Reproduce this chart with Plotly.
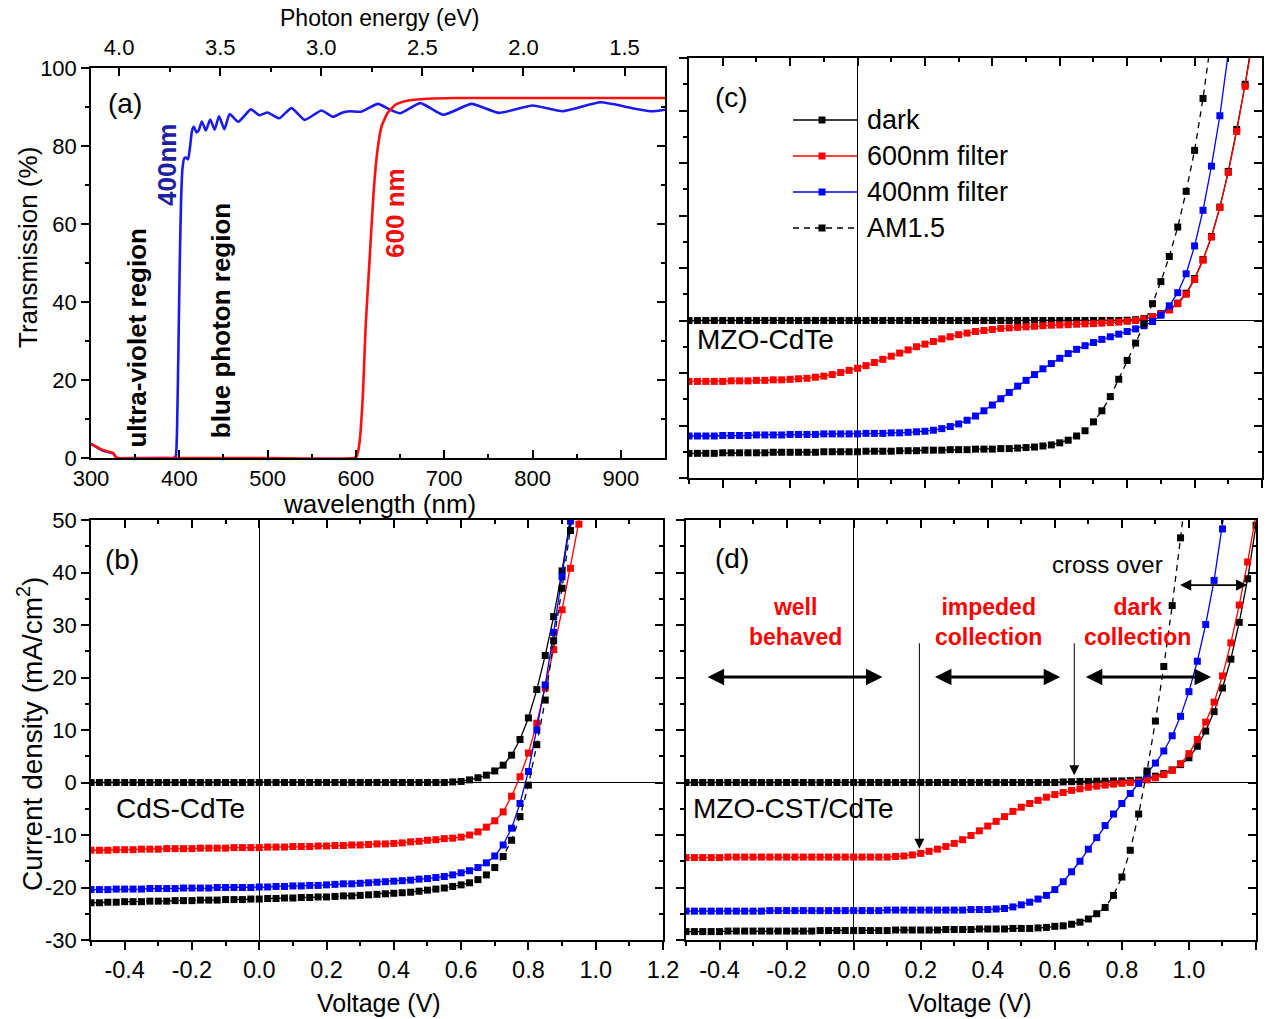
import plotly.graph_objects as go

# ---------------- (a) transmission of the two long-pass filters ----------------
WL_400 = [300, 305, 310, 315, 320, 325, 328, 330, 350, 380, 394, 396, 397.5, 399, 400.5, 402,
          403.5, 405.5, 408, 410, 412, 414.5, 416.5, 419.5, 422, 425.5, 430, 435, 440, 445,
          451, 457, 466.7, 481, 490.6, 500, 513, 527, 542, 561, 574, 585, 593, 606, 625,
          637, 650, 673, 699, 731, 762, 800, 834, 877, 915, 935, 950]
T_400 = [3.6, 3.0, 2.3, 1.8, 1.5, 1.2, 0.3, 0.0, 0.0, 0.0, 0.0, 0.5, 8.0, 28.0, 50.0, 66.0,
         74.0, 76.8, 77.0, 76.6, 79.5, 84.0, 84.9, 83.5, 84.0, 86.3, 84.0, 86.8, 84.2, 87.6,
         84.3, 88.2, 86.2, 89.4, 87.9, 88.6, 87.1, 89.7, 86.7, 89.1, 87.5, 88.6, 88.9, 88.8, 90.8,
         89.5, 88.4, 91.0, 88.0, 90.8, 88.5, 90.4, 88.9, 91.2, 89.6, 88.9, 89.3]

WL_600 = [300, 305, 310, 315, 320, 325, 328, 330, 400, 500, 598, 601, 604, 608, 611, 615.5,
          620, 624, 629, 636, 645, 658, 681, 712, 800, 950]
T_600 = [3.6, 3.0, 2.4, 1.9, 1.6, 1.3, 0.3, 0.0, 0.0, 0.0, 0.0, 0.5, 3.8, 16.7, 33.8, 51.0,
         68.0, 78.2, 85.0, 88.5, 90.6, 91.6, 92.1, 92.3, 92.3, 92.3]

WL_TICKS = [300, 400, 500, 600, 700, 800, 900]
T_TICKS = [0, 20, 40, 60, 80, 100]
E_TICKS = [4.0, 3.5, 3.0, 2.5, 2.0, 1.5]
E_LABELS = ["4.0", "3.5", "3.0", "2.5", "2.0", "1.5"]

# ---------------- J-V sweeps (voltage grid, V) ----------------
VOLT = [-0.5, -0.475, -0.45, -0.425, -0.4, -0.375, -0.35, -0.325, -0.3, -0.275, -0.25, -0.225,
        -0.2, -0.175, -0.15, -0.125, -0.1, -0.075, -0.05, -0.025, 0.0, 0.025, 0.05, 0.075,
        0.1, 0.125, 0.15, 0.175, 0.2, 0.225, 0.25, 0.275, 0.3, 0.325, 0.35, 0.375, 0.4,
        0.425, 0.45, 0.475, 0.5, 0.525, 0.55, 0.575, 0.6, 0.625, 0.65, 0.675, 0.7, 0.725,
        0.75, 0.775, 0.8, 0.825, 0.85, 0.875, 0.9, 0.925, 0.95, 0.975, 1.0, 1.025, 1.05,
        1.075, 1.1, 1.125, 1.15, 1.175, 1.2]
V_TICKS = [-0.4, -0.2, 0.0, 0.2, 0.4, 0.6, 0.8, 1.0, 1.2]
V_LABELS = ["-0.4", "-0.2", "0.0", "0.2", "0.4", "0.6", "0.8", "1.0", "1.2"]
J_TICKS = [-30, -20, -10, 0, 10, 20, 30, 40, 50]
J_LABELS = ["-30", "-20", "-10", "0", "10", "20", "30", "40", "50"]

# (b) CdS-CdTe, current density in mA/cm2
CDS_DARK = [0.0, 0.0, 0.0, 0.0, 0.0, 0.0, 0.0, 0.0, 0.0, 0.0, 0.0, 0.0, 0.0, 0.0, 0.0, 0.0,
            0.0, 0.0, 0.0, 0.0, 0.0, 0.0, 0.0, 0.0, 0.0, 0.0, 0.0, 0.0, 0.0, 0.0, 0.0, 0.0,
            0.0, 0.0, 0.0, 0.0, 0.0, 0.0, 0.0, 0.0, 0.0, 0.0, 0.0, 0.1, 0.2, 0.5, 0.9, 1.4,
            2.2, 3.3, 5.2, 8.2, 12.3, 17.7, 24.2, 31.6, 40.3, 50.5]
CDS_600 = [-12.9, -12.9, -12.9, -12.8, -12.8, -12.8, -12.7, -12.7, -12.7, -12.6, -12.6, -12.6,
           -12.6, -12.5, -12.5, -12.5, -12.5, -12.4, -12.4, -12.4, -12.4, -12.3, -12.3, -12.3,
           -12.2, -12.2, -12.2, -12.1, -12.1, -12.0, -12.0, -11.9, -11.9, -11.8, -11.7, -11.7,
           -11.6, -11.5, -11.3, -11.2, -11.0, -10.9, -10.7, -10.6, -10.4, -10.0, -9.4, -8.5,
           -7.3, -5.6, -2.6, 1.1, 5.6, 11.3, 18.0, 25.3, 32.9, 40.8, 49.2, 58.0]
CDS_400 = [-20.4, -20.4, -20.4, -20.3, -20.3, -20.3, -20.3, -20.2, -20.2, -20.2, -20.2, -20.1,
           -20.1, -20.1, -20.1, -20.0, -20.0, -20.0, -20.0, -20.0, -19.9, -19.9, -19.8, -19.8,
           -19.7, -19.7, -19.6, -19.6, -19.5, -19.4, -19.3, -19.3, -19.2, -19.1, -19.0, -18.9,
           -18.8, -18.7, -18.6, -18.4, -18.3, -18.1, -17.9, -17.6, -17.2, -16.8, -16.2, -15.3,
           -14.0, -11.9, -8.7, -4.0, 2.1, 10.0, 18.6, 28.6, 39.2, 49.8, 61.0]
CDS_AM15 = [-22.9, -22.9, -22.8, -22.8, -22.7, -22.7, -22.7, -22.6, -22.6, -22.6, -22.5, -22.5,
            -22.5, -22.4, -22.4, -22.4, -22.3, -22.3, -22.3, -22.2, -22.2, -22.1, -22.1, -22.0,
            -22.0, -21.9, -21.9, -21.8, -21.8, -21.7, -21.6, -21.6, -21.5, -21.4, -21.3, -21.2,
            -21.1, -21.0, -20.9, -20.7, -20.5, -20.3, -20.1, -19.8, -19.5, -19.1, -18.5, -17.6,
            -16.2, -14.1, -11.0, -6.5, -0.5, 7.2, 15.7, 27.0, 37.0, 48.0, 60.0]

# (c) MZO-CdTe
MZO_DARK = [0.0, 0.0, 0.0, 0.0, 0.0, 0.0, 0.0, 0.0, 0.0, 0.0, 0.0, 0.0, 0.0, 0.0, 0.0, 0.0,
            0.0, 0.0, 0.0, 0.0, 0.0, 0.0, 0.0, 0.0, 0.0, 0.0, 0.0, 0.0, 0.0, 0.0, 0.0, 0.0,
            0.0, 0.0, 0.0, 0.0, 0.0, 0.0, 0.0, 0.0, 0.0, 0.0, 0.0, 0.0, 0.0, 0.0, 0.0, 0.0,
            0.0, 0.0, 0.0, 0.0, 0.05, 0.15, 0.35, 0.7, 1.3, 2.1, 3.3, 5.2, 8.0, 11.6, 16.0,
            21.6, 28.4, 36.4, 45.0, 55.0]
MZO_600 = [-11.6, -11.6, -11.6, -11.6, -11.6, -11.5, -11.5, -11.5, -11.4, -11.4, -11.3, -11.3,
           -11.2, -11.1, -11.0, -10.8, -10.6, -10.3, -9.9, -9.5, -9.1, -8.6, -8.0, -7.4,
           -6.8, -6.2, -5.6, -5.0, -4.5, -4.0, -3.5, -3.1, -2.7, -2.4, -2.1, -1.9,
           -1.7, -1.5, -1.4, -1.3, -1.2, -1.1, -1.0, -0.9, -0.85, -0.8, -0.7, -0.65,
           -0.6, -0.5, -0.4, -0.3, -0.15, 0.0, 0.3, 0.7, 1.2, 2.0, 3.2, 5.0,
           7.8, 11.5, 15.9, 21.5, 28.2, 36.0, 44.6, 54.0]
MZO_400 = [-22.0, -22.0, -22.0, -22.0, -21.9, -21.9, -21.9, -21.9, -21.8, -21.8, -21.8, -21.8,
           -21.7, -21.7, -21.7, -21.7, -21.6, -21.6, -21.6, -21.6, -21.6, -21.5, -21.5, -21.5,
           -21.4, -21.4, -21.3, -21.2, -21.1, -20.9, -20.6, -20.2, -19.7, -19.0, -18.2, -17.2,
           -16.1, -14.9, -13.7, -12.5, -11.4, -10.3, -9.2, -8.2, -7.2, -6.3, -5.5, -4.8,
           -4.2, -3.6, -3.1, -2.6, -2.1, -1.6, -1.0, -0.2, 1.0, 2.8, 5.3, 8.9,
           14.2, 21.0, 29.4, 39.0, 51.0]
MZO_AM15 = [-25.3, -25.3, -25.3, -25.3, -25.2, -25.2, -25.2, -25.2, -25.2, -25.2, -25.1, -25.1,
            -25.1, -25.1, -25.1, -25.1, -25.0, -25.0, -25.0, -25.0, -25.0, -24.9, -24.9, -24.9,
            -24.9, -24.8, -24.8, -24.8, -24.7, -24.7, -24.7, -24.6, -24.6, -24.6, -24.5, -24.5,
            -24.5, -24.4, -24.4, -24.3, -24.2, -24.1, -23.9, -23.7, -23.3, -22.8, -22.0, -21.0,
            -19.3, -17.2, -14.5, -11.2, -7.6, -4.3, -0.6, 3.2, 7.4, 12.2, 17.8, 24.6,
            32.4, 42.3, 54.0]

# (d) MZO-CST/CdTe
CST_DARK = [0.0, 0.0, 0.0, 0.0, 0.0, 0.0, 0.0, 0.0, 0.0, 0.0, 0.0, 0.0, 0.0, 0.0, 0.0, 0.0,
            0.0, 0.0, 0.0, 0.0, 0.0, 0.0, 0.0, 0.0, 0.0, 0.0, 0.0, 0.0, 0.0, 0.0, 0.0, 0.0,
            0.0, 0.0, 0.0, 0.0, 0.0, 0.0, 0.0, 0.0, 0.0, 0.0, 0.0, 0.0, 0.0, 0.1, 0.15, 0.2,
            0.2, 0.25, 0.25, 0.3, 0.3, 0.35, 0.45, 0.75, 1.2, 1.7, 2.4, 3.4, 4.7, 6.9, 9.8,
            13.5, 18.0, 23.5, 30.5, 38.8, 49.0]
CST_600 = [-14.3, -14.3, -14.3, -14.3, -14.3, -14.2, -14.2, -14.2, -14.2, -14.2, -14.2, -14.2,
           -14.2, -14.2, -14.2, -14.2, -14.2, -14.2, -14.2, -14.2, -14.2, -14.2, -14.2, -14.2,
           -14.2, -14.1, -14.0, -13.8, -13.5, -13.1, -12.7, -12.2, -11.6, -10.9, -10.1, -9.2,
           -8.3, -7.4, -6.5, -5.5, -4.7, -4.0, -3.4, -2.8, -2.3, -1.9, -1.5, -1.2,
           -0.9, -0.7, -0.5, -0.3, -0.15, 0.0, 0.15, 0.5, 0.9, 1.5, 2.3, 3.6,
           5.5, 8.2, 11.5, 15.3, 20.3, 26.6, 33.8, 42.0, 51.0]
CST_400 = [-24.5, -24.5, -24.5, -24.5, -24.5, -24.5, -24.5, -24.5, -24.5, -24.5, -24.4, -24.4,
           -24.4, -24.4, -24.4, -24.4, -24.4, -24.4, -24.4, -24.4, -24.4, -24.4, -24.4, -24.4,
           -24.3, -24.3, -24.3, -24.3, -24.3, -24.3, -24.3, -24.3, -24.3, -24.3, -24.2, -24.2,
           -24.2, -24.1, -24.0, -23.7, -23.3, -22.8, -22.2, -21.5, -20.4, -18.9, -17.0, -15.0,
           -12.7, -10.5, -8.2, -6.0, -4.0, -2.1, -0.2, 1.7, 3.7, 6.0, 8.9, 12.6,
           17.3, 23.1, 30.1, 38.5, 48.3, 60.0]
CST_AM15 = [-28.4, -28.4, -28.4, -28.4, -28.4, -28.3, -28.3, -28.3, -28.3, -28.3, -28.3, -28.3,
            -28.3, -28.3, -28.3, -28.3, -28.2, -28.2, -28.2, -28.2, -28.2, -28.2, -28.2, -28.2,
            -28.2, -28.1, -28.1, -28.1, -28.1, -28.1, -28.1, -28.0, -28.0, -28.0, -28.0, -27.9,
            -27.9, -27.9, -27.9, -27.8, -27.8, -27.8, -27.7, -27.6, -27.4, -27.3, -27.0, -26.6,
            -26.0, -25.0, -23.8, -21.5, -18.0, -12.9, -6.0, 2.2, 11.7, 22.1, 33.7, 46.6, 60.0]

SERIES_NAMES = ["dark", "600nm filter", "400nm filter", "AM1.5"]

# ---------------- styling ----------------
FONT = "Liberation Sans, Arial, sans-serif"
W, H = 1270, 1019
BLACK, RED, BLUE = "#000000", "#ff0000", "#0000ff"
TICK_FONT = dict(family=FONT, size=22, color="black")
VTICK_FONT = dict(family=FONT, size=23.5, color="black")


def px(x):
    return x / W


def py(y):
    return 1 - y / H


fig = go.Figure()

# (a) transmission curves
fig.add_trace(go.Scatter(x=WL_400, y=T_400, mode="lines", line=dict(color="#1a1aee", width=2.6,
                         shape="spline", smoothing=0.5), xaxis="x", yaxis="y", showlegend=False))
fig.add_trace(go.Scatter(x=WL_600, y=T_600, mode="lines", line=dict(color="#ff1010", width=2.6,
                         shape="spline", smoothing=0.5), xaxis="x", yaxis="y", showlegend=False))


def jv(curve, color, ax, ay, dashed=False):
    return go.Scatter(
        x=VOLT[:len(curve)], y=curve, mode="lines+markers",
        line=dict(color=color, width=1.3, dash="6px,5px" if dashed else "solid"),
        marker=dict(symbol="square", size=7, color=color, line=dict(width=0)),
        xaxis=ax, yaxis=ay, showlegend=False, cliponaxis=True)


for ax, ay, dark, f600, f400, am in [
        ("x2", "y2", CDS_DARK, CDS_600, CDS_400, CDS_AM15),
        ("x3", "y3", MZO_DARK, MZO_600, MZO_400, MZO_AM15),
        ("x4", "y4", CST_DARK, CST_600, CST_400, CST_AM15)]:
    fig.add_trace(jv(dark, BLACK, ax, ay))
    fig.add_trace(jv(f600, RED, ax, ay))
    fig.add_trace(jv(f400, BLUE, ax, ay))
    fig.add_trace(jv(am, BLACK, ax, ay, dashed=True))

# empty traces so the mirrored frame axes get drawn
for ax, ay in [("x5", "y"), ("x", "y5"), ("x6", "y2"), ("x2", "y6"),
               ("x7", "y3"), ("x3", "y7"), ("x8", "y4"), ("x4", "y8")]:
    fig.add_trace(go.Scatter(x=[None], y=[None], mode="markers", xaxis=ax, yaxis=ay,
                             showlegend=False, hoverinfo="skip"))


def tick_setup(d, ticks, minor, tickvals, ticktext):
    d.update(tickmode="array", tickvals=tickvals, ticktext=ticktext,
             ticks=ticks, ticklen=8, tickwidth=1.5, tickcolor="black",
             minor=dict(ticks=ticks, ticklen=4, tickwidth=1.5, tickcolor="black",
                        tickmode="linear", tick0=0, dtick=minor))
    return d


def main_axis(domain, rng, tickvals, ticktext, minor, anchor, labels=True, zeroline=False,
              ticks="outside", standoff=None, font=TICK_FONT):
    d = dict(domain=domain, range=rng, anchor=anchor, automargin=False,
             showline=True, linecolor="black", linewidth=1.5, mirror=False,
             showgrid=False, zeroline=zeroline, zerolinecolor="black", zerolinewidth=1,
             showticklabels=labels, tickfont=font)
    tick_setup(d, ticks, minor, tickvals, ticktext)
    if standoff is not None:
        d["ticklabelstandoff"] = standoff
    return d


def mirror_axis(over, side, anchor, rng, tickvals, ticktext, minor, labels=False, standoff=None):
    d = dict(overlaying=over, side=side, anchor=anchor, range=rng, automargin=False,
             showline=True, linecolor="black", linewidth=1.5,
             showgrid=False, zeroline=False, showticklabels=labels, tickfont=TICK_FONT)
    tick_setup(d, "inside", minor, tickvals, ticktext)
    if standoff is not None:
        d["ticklabelstandoff"] = standoff
    return d


XA = [px(91), px(665)]
YA = [py(458), py(68)]
XB = [px(91), px(663)]
YB = [py(940), py(520)]
XC = [px(689), px(1262)]
YC = [py(478), py(58)]
XD = [px(686), px(1256)]
YD = [py(940), py(520)]

VR, JR = [-0.5, 1.2], [-30, 50]
E_RANGE = [4.139, 1.30]
WL_LABELS = [str(v) for v in WL_TICKS]
T_LABELS = [str(v) for v in T_TICKS]

layout = dict(
    template="none",
    width=W, height=H, margin=dict(l=0, r=0, t=0, b=0, autoexpand=False),
    paper_bgcolor="white", plot_bgcolor="white",
    font=dict(family=FONT, color="black"),
    xaxis=main_axis(XA, [300, 950], WL_TICKS, WL_LABELS, 50, "y", ticks="inside", standoff=0),
    yaxis=main_axis(YA, [0, 100], T_TICKS, T_LABELS, 10, "x"),
    xaxis5=mirror_axis("x", "top", "y", E_RANGE, E_TICKS, E_LABELS, 0.25, labels=True, standoff=2),
    yaxis5=mirror_axis("y", "right", "x", [0, 100], T_TICKS, T_LABELS, 10),
    xaxis2=main_axis(XB, VR, V_TICKS, V_LABELS, 0.1, "y2", zeroline=True, standoff=0,
                     font=VTICK_FONT),
    yaxis2=main_axis(YB, JR, J_TICKS, J_LABELS, 5, "x2", zeroline=True),
    xaxis6=mirror_axis("x2", "top", "y2", VR, V_TICKS, V_LABELS, 0.1),
    yaxis6=mirror_axis("y2", "right", "x2", JR, J_TICKS, J_LABELS, 5),
    xaxis3=main_axis(XC, VR, V_TICKS, V_LABELS, 0.1, "y3", labels=False, zeroline=True),
    yaxis3=main_axis(YC, JR, J_TICKS, J_LABELS, 5, "x3", labels=False, zeroline=True),
    xaxis7=mirror_axis("x3", "top", "y3", VR, V_TICKS, V_LABELS, 0.1),
    yaxis7=mirror_axis("y3", "right", "x3", JR, J_TICKS, J_LABELS, 5),
    xaxis4=main_axis(XD, VR, V_TICKS, V_LABELS, 0.1, "y4", zeroline=True, standoff=0,
                     font=VTICK_FONT),
    yaxis4=main_axis(YD, JR, J_TICKS, J_LABELS, 5, "x4", labels=False, zeroline=True),
    xaxis8=mirror_axis("x4", "top", "y4", VR, V_TICKS, V_LABELS, 0.1),
    yaxis8=mirror_axis("y4", "right", "x4", JR, J_TICKS, J_LABELS, 5),
)
fig.update_layout(**layout)

ann = []


def paper_text(text, x, y, size, angle=0, color="black", bold=False):
    ann.append(dict(text=f"<b>{text}</b>" if bold else text, x=px(x), y=py(y),
                    xref="paper", yref="paper", showarrow=False, textangle=angle,
                    xanchor="center", yanchor="middle",
                    font=dict(family=FONT, size=size, color=color)))


def data_text(text, x, y, xr, yr, size, angle=0, color="black", bold=False):
    ann.append(dict(text=f"<b>{text}</b>" if bold else text, x=x, y=y, xref=xr, yref=yr,
                    showarrow=False, textangle=angle, xanchor="center", yanchor="middle",
                    font=dict(family=FONT, size=size, color=color)))


# axis titles
paper_text("Photon energy (eV)", 379, 18, 23)
paper_text("wavelength (nm)", 379, 504, 26)
paper_text("Transmission (%)", 28, 248, 26, angle=-90)
paper_text("Current density (mA/cm<sup>2</sup>)", 30, 734, 28, angle=-90)
paper_text("Voltage (V)", 379, 1003, 25)
paper_text("Voltage (V)", 970, 1003, 25)

# (a) labels
data_text("(a)", 339, 90.8, "x", "y", 28)
data_text("400nm", 385.9, 75.1, "x", "y", 26, angle=-90, color="#20209f", bold=True)
data_text("ultra-violet region", 351.8, 30.8, "x", "y", 26, angle=-90, bold=True)
data_text("blue photon region", 447.3, 35.1, "x", "y", 26, angle=-90, bold=True)
data_text("600 nm", 644.1, 62.8, "x", "y", 26, angle=-90, color="#ee1111", bold=True)

# (b)
data_text("(b)", -0.407, 42.4, "x2", "y2", 28)
data_text("CdS-CdTe", -0.235, -5.0, "x2", "y2", 28)

# (c)
data_text("(c)", -0.374, 42.4, "x3", "y3", 28)
data_text("MZO-CdTe", -0.273, -3.7, "x3", "y3", 28)

# (d)
data_text("(d)", -0.363, 42.6, "x4", "y4", 28)
data_text("MZO-CST/CdTe", -0.179, -4.9, "x4", "y4", 28)
data_text("cross over", 0.756, 41.6, "x4", "y4", 24)
data_text("well<br>behaved", -0.173, 30.5, "x4", "y4", 23, color=RED, bold=True)
data_text("impeded<br>collection", 0.402, 30.6, "x4", "y4", 23, color=RED, bold=True)
data_text("dark<br>collection", 0.846, 30.5, "x4", "y4", 23, color=RED, bold=True)


def arrow(x0, x1, y0, y1, width, size, both=True):
    ann.append(dict(x=x1, y=y1, ax=x0, ay=y0, xref="x4", yref="y4", axref="x4", ayref="y4",
                    text="", showarrow=True, arrowhead=2, arrowsize=size, arrowwidth=width,
                    arrowcolor="black", arrowside="end+start" if both else "end",
                    standoff=0, startstandoff=0))


arrow(-0.44, 0.086, 20.1, 20.1, 3, 1.1)
arrow(0.238, 0.616, 20.1, 20.1, 3, 1.1)
arrow(0.688, 1.066, 20.1, 20.1, 3, 1.1)
arrow(0.969, 1.174, 37.6, 37.6, 1.6, 1.4)
arrow(0.196, 0.196, 26.8, -12.6, 1, 2, both=False)
arrow(0.658, 0.658, 26.8, 1.4, 1, 2, both=False)

# legend of panel (c)
shapes = []
LEG_ROWS = [120, 156, 192, 228]
LEG_STYLE = [(BLACK, "solid"), (RED, "solid"), (BLUE, "solid"), (BLACK, "dash")]
for name, yrow, (col, dash) in zip(SERIES_NAMES, LEG_ROWS, LEG_STYLE):
    shapes.append(dict(type="line", xref="paper", yref="paper", x0=px(793), x1=px(857),
                       y0=py(yrow), y1=py(yrow),
                       line=dict(color=col, width=1.3, dash="6px,5px" if dash == "dash" else "solid")))
    shapes.append(dict(type="rect", xref="paper", yref="paper", x0=px(818.5), x1=px(825.5),
                       y0=py(yrow + 3.5), y1=py(yrow - 3.5), fillcolor=col, line=dict(width=0)))
    ann.append(dict(text=name, x=px(865), y=py(yrow), xref="paper", yref="paper",
                    showarrow=False, xanchor="left", yanchor="middle",
                    font=dict(family=FONT, size=27, color="black")))

fig.update_layout(annotations=ann, shapes=shapes)
fig.write_html("out.html")
